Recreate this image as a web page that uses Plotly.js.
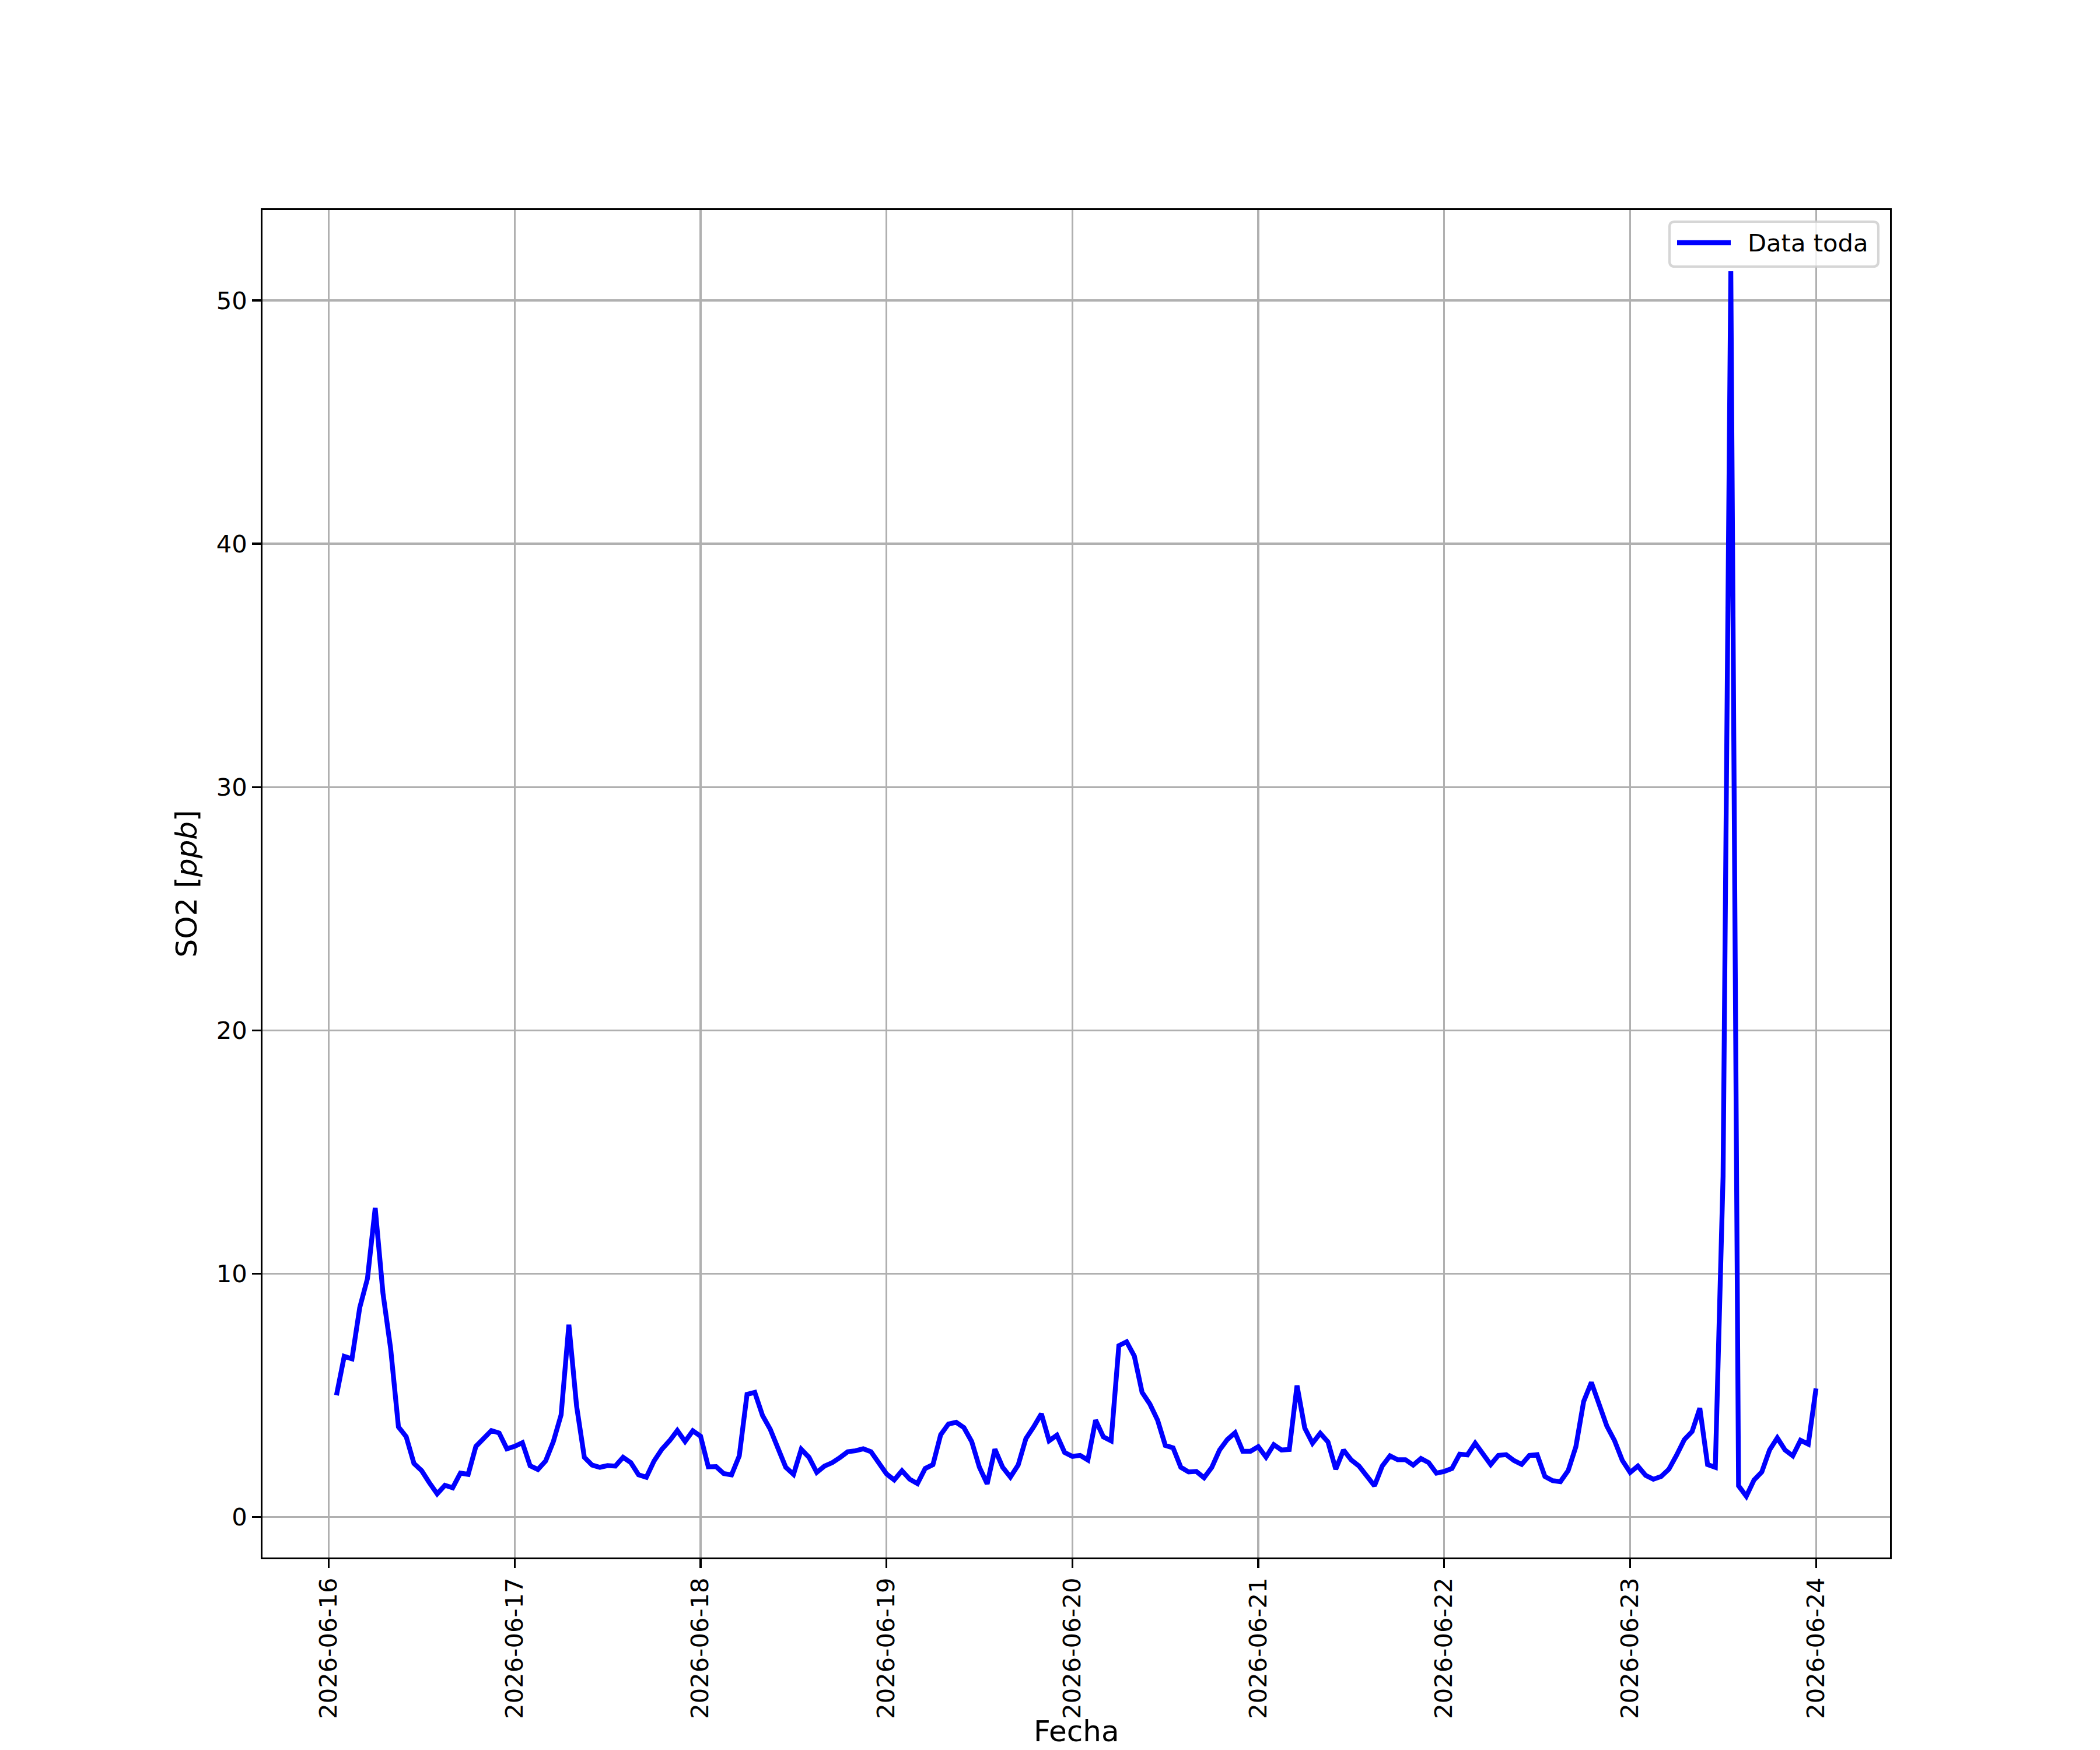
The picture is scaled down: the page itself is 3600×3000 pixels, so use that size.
<!DOCTYPE html>
<html>
<head>
<meta charset="utf-8">
<script src="https://cdn.plot.ly/plotly-3.0.1.min.js"></script>
<style>html,body{margin:0;padding:0;background:#fff;}</style>
</head>
<body>
<div id="chart" style="width:3600px;height:3000px;"></div>
<script>
// Hourly SO2 values [ppb]
const day16 = [5.0, 6.6, 6.5, 8.6, 9.8, 12.7, 9.2, 6.9, 3.7, 3.3, 2.2, 1.9, 1.4, 0.95, 1.3, 1.2, 1.8, 1.75, 2.9, 3.2, 3.55, 3.45, 2.8]; // hours 01..23
const day17 = [2.9, 3.05, 2.1, 1.95, 2.3, 3.1, 4.2, 7.9, 4.55, 2.45, 2.13, 2.04, 2.11, 2.09, 2.45, 2.23, 1.73, 1.63, 2.3, 2.78, 3.13, 3.55, 3.1, 3.54];
const day18 = [3.32, 2.06, 2.07, 1.78, 1.73, 2.51, 5.04, 5.12, 4.17, 3.6, 2.82, 2.04, 1.75, 2.78, 2.45, 1.83, 2.09, 2.23, 2.44, 2.68, 2.72, 2.8, 2.68, 2.25];
const day19 = [1.77, 1.52, 1.9, 1.55, 1.37, 1.99, 2.15, 3.38, 3.82, 3.89, 3.67, 3.1, 2.04, 1.36, 2.78, 2.04, 1.64, 2.13, 3.22, 3.7, 4.24, 3.13, 3.36, 2.65];
const day20 = [2.49, 2.53, 2.34, 3.98, 3.29, 3.13, 7.04, 7.2, 6.61, 5.12, 4.64, 3.98, 2.94, 2.84, 2.04, 1.85, 1.87, 1.61, 2.04, 2.75, 3.18, 3.46, 2.7, 2.7];
const day21 = [2.89, 2.46, 2.97, 2.75, 2.77, 5.4, 3.65, 3.03, 3.44, 3.08, 1.96, 2.75, 2.34, 2.09, 1.66, 1.28, 2.09, 2.51, 2.35, 2.35, 2.13, 2.4, 2.23, 1.8];
const day22 = [1.87, 1.99, 2.58, 2.55, 3.03, 2.61, 2.15, 2.53, 2.56, 2.32, 2.16, 2.53, 2.56, 1.66, 1.49, 1.45, 1.9, 2.89, 4.74, 5.53, 4.64, 3.73, 3.13, 2.32];
const day23 = [1.83, 2.09, 1.71, 1.55, 1.66, 1.96, 2.54, 3.18, 3.51, 4.47, 2.15, 2.04, 14.0, 51.2, 1.28, 0.85, 1.52, 1.85, 2.75, 3.25, 2.75, 2.51, 3.15, 2.99];
const day24 = [5.28]; // hour 00

const days = [
  ['2026-06-16', 1, day16],
  ['2026-06-17', 0, day17],
  ['2026-06-18', 0, day18],
  ['2026-06-19', 0, day19],
  ['2026-06-20', 0, day20],
  ['2026-06-21', 0, day21],
  ['2026-06-22', 0, day22],
  ['2026-06-23', 0, day23],
  ['2026-06-24', 0, day24]
];

const xs = [], ys = [];
days.forEach(([d, h0, vals]) => {
  vals.forEach((v, i) => {
    xs.push(d + ' ' + String(h0 + i).padStart(2, '0') + ':00');
    ys.push(v);
  });
});

function toMs(s) { return Date.parse(s.replace(' ', 'T') + ':00Z'); }
function toStr(ms) { return new Date(ms).toISOString().slice(0, 19).replace('T', ' '); }

const x0 = toMs(xs[0]), x1 = toMs(xs[xs.length - 1]);
const xm = 0.05 * (x1 - x0);
const ymin = Math.min(...ys), ymax = Math.max(...ys);
const ym = 0.05 * (ymax - ymin);

const font = 'DejaVu Sans, Liberation Sans, sans-serif';
const tickFs = 41.67, titleFs = 50;

const trace = {
  x: xs, y: ys, type: 'scatter', mode: 'lines', name: 'Data toda',
  line: { color: '#0000ff', width: 8.3 }, showlegend: false
};

// paper-coordinate helpers for the legend box (plot area 450..3240 x 360..2670)
const W = 2790, H = 2310;
const px = v => (v - 450) / W, py = v => (2670 - v) / H;
const bx0 = px(2862), bx1 = px(3220), byT = py(380), byB = py(457);
const rx = 9 / W, ry = 9 / H;
const boxPath = `M ${bx0 + rx},${byB} L ${bx1 - rx},${byB} Q ${bx1},${byB} ${bx1},${byB + ry} L ${bx1},${byT - ry} Q ${bx1},${byT} ${bx1 - rx},${byT} L ${bx0 + rx},${byT} Q ${bx0},${byT} ${bx0},${byT - ry} L ${bx0},${byB + ry} Q ${bx0},${byB} ${bx0 + rx},${byB} Z`;
const legY = py(416);

const layout = {
  width: 3600, height: 3000,
  margin: { l: 450, r: 360, t: 360, b: 330, pad: 0 },
  paper_bgcolor: '#ffffff', plot_bgcolor: '#ffffff',
  font: { family: font, size: tickFs, color: '#000000' },
  showlegend: false,
  xaxis: {
    type: 'date',
    range: [toStr(x0 - xm), toStr(x1 + xm)],
    tick0: '2026-06-16', dtick: 86400000, tickformat: '%Y-%m-%d',
    tickangle: -90,
    ticks: 'outside', ticklen: 14.6, tickwidth: 3.3, tickcolor: '#000000',
    tickfont: { family: font, size: tickFs, color: '#000000' },
    showgrid: true, gridcolor: '#b0b0b0', gridwidth: 3.3,
    showline: true, linecolor: '#000000', linewidth: 3.3, mirror: true,
    zeroline: false, automargin: false,
    title: { text: '' }
  },
  yaxis: {
    range: [ymin - ym, ymax + ym],
    tick0: 0, dtick: 10,
    ticks: 'outside', ticklen: 14.6, tickwidth: 3.3, tickcolor: '#000000',
    tickfont: { family: font, size: tickFs, color: '#000000' },
    showgrid: true, gridcolor: '#b0b0b0', gridwidth: 3.3,
    showline: true, linecolor: '#000000', linewidth: 3.3, mirror: true,
    zeroline: false, automargin: false,
    title: { text: 'SO2 [<i>ppb</i>]', font: { family: font, size: titleFs, color: '#000000' }, standoff: 18 }
  },
  shapes: [
    { type: 'path', xref: 'paper', yref: 'paper', path: boxPath,
      fillcolor: 'rgba(255,255,255,0.8)', line: { color: 'rgba(204,204,204,0.8)', width: 4.2 }, layer: 'above' },
    { type: 'line', xref: 'paper', yref: 'paper', x0: px(2875), x1: px(2967), y0: legY, y1: legY,
      line: { color: '#0000ff', width: 8.3 }, layer: 'above' }
  ],
  annotations: [
    { xref: 'paper', yref: 'paper', x: px(2994), y: legY, xanchor: 'left', yanchor: 'middle',
      text: 'Data toda', showarrow: false, font: { family: font, size: tickFs, color: '#000000' } },
    { xref: 'paper', yref: 'paper', x: 0.5, y: py(2968), xanchor: 'center', yanchor: 'middle',
      text: 'Fecha', showarrow: false, font: { family: font, size: titleFs, color: '#000000' } }
  ]
};

Plotly.newPlot('chart', [trace], layout, { displayModeBar: false, staticPlot: true });
</script>
</body>
</html>
